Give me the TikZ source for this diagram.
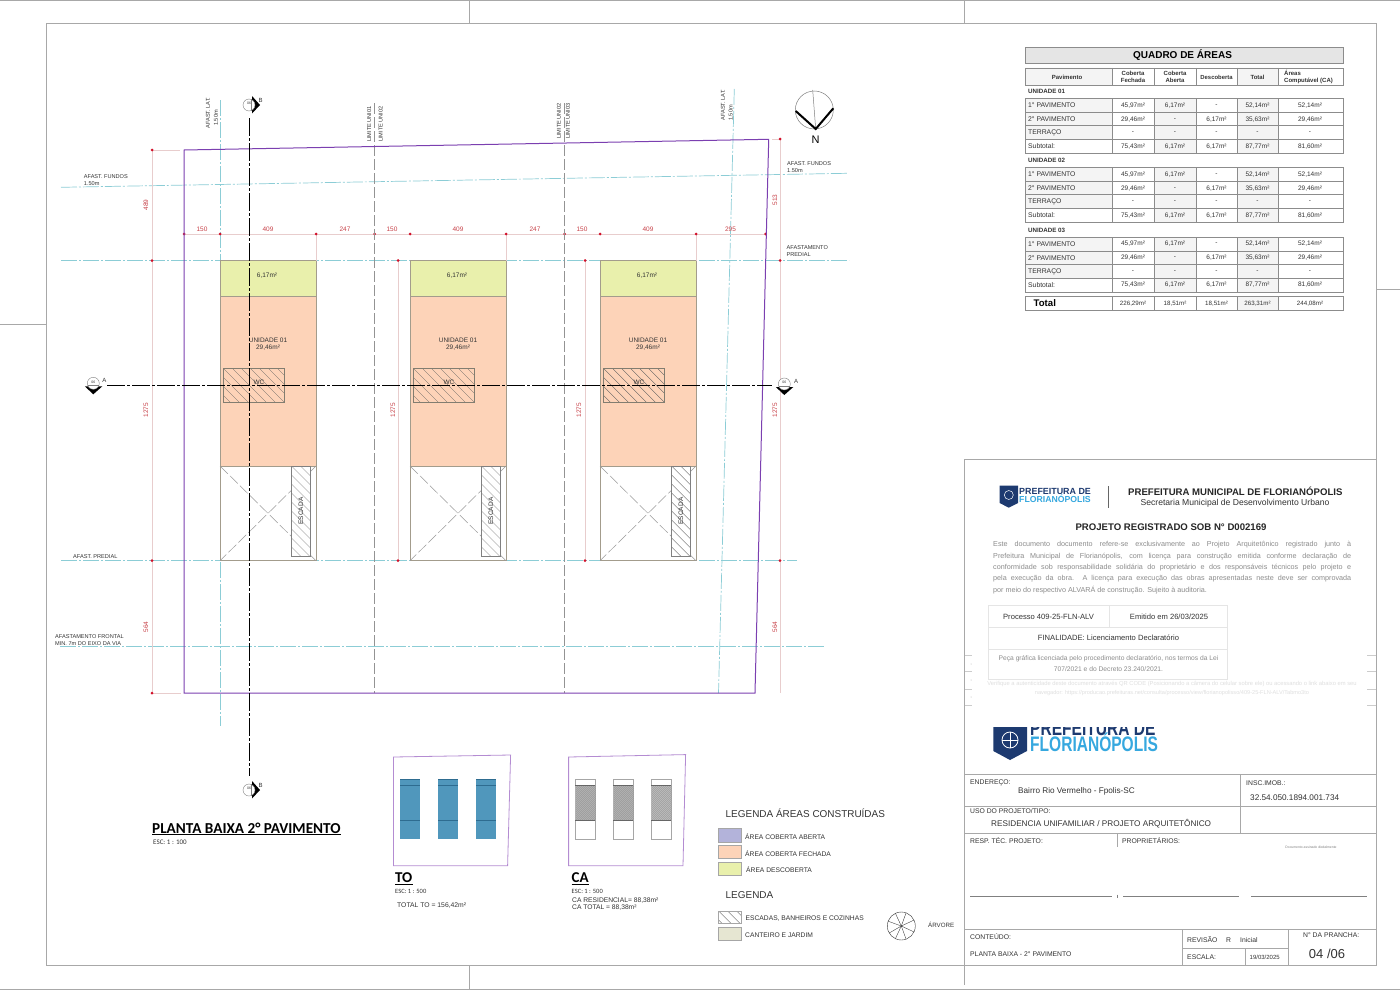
\documentclass[tikz,border=0pt]{standalone}
\usepackage{fontspec}
\setmainfont{Liberation Sans}
\newfontfamily\carlito{Carlito}
\definecolor{moldura}{HTML}{A8A8A8}
\definecolor{texto}{HTML}{333333}
\definecolor{lote}{HTML}{7B3FB0}
\definecolor{lotecl}{HTML}{B48CD2}
\definecolor{afast}{HTML}{8CCDD6}
\definecolor{cota}{HTML}{E8CDCD}
\definecolor{cotatx}{HTML}{C8434A}
\definecolor{ponto}{HTML}{D2102A}
\definecolor{amarelo}{HTML}{E9F0AC}
\definecolor{laranja}{HTML}{FDD3B8}
\definecolor{borda}{HTML}{A39C8C}
\definecolor{lilas}{HTML}{B3B3DA}
\definecolor{jardim}{HTML}{E6E6D2}
\definecolor{azulto}{HTML}{5097BC}
\definecolor{azultod}{HTML}{2E6C90}
\definecolor{marinho}{HTML}{1D3A70}
\definecolor{celeste}{HTML}{36A8DF}
\definecolor{tabcinza}{HTML}{F4F4F4}
\newcommand{\tam}[1]{\fontsize{#1}{#1}\selectfont}
\tikzset{
    txt/.style={inner sep=0pt,anchor=west,text=texto,font=\tam{5.6}},
    meio/.style={inner sep=0pt,text=texto,font=\tam{6.5}},
    cotanum/.style={inner sep=0pt,text=cotatx,font=\tam{6.5}},
    selo/.style={inner sep=0pt,anchor=west,text=texto,font=\tam{6.8}},
    limite/.style={draw=moldura,line width=0.8pt},
    tabela/.style={draw=gray!90,line width=0.7pt},
    afastam/.style={afast,line width=0.7pt,dash pattern=on 16pt off 2pt on 2pt off 2pt},
    eixo/.style={black,line width=1pt,dash pattern=on 18pt off 2pt on 3pt off 2pt},
    divisa/.style={gray!85,line width=0.5pt,dash pattern=on 11pt off 3pt},
    cotalin/.style={cota,line width=1pt},
    hach/.style={texto!80,line width=0.35pt},
    leg/.style={draw=gray!70,line width=0.5pt}
}
\newcommand{\hachura}[4]{%
    \begin{scope}
        \clip (#1,#2) rectangle (#3,#4);
        \foreach \t in {-126,-117,...,126}{
            \draw[hach] ({#1+\t},#2) -- ({#1+\t+#4-#2},#4);
        }
    \end{scope}
}
\begin{document}
\begin{tikzpicture}[x=1pt,y=-1pt]
    \useasboundingbox (0,0) rectangle (1400,990);
    \fill[white] (0,0) rectangle (1400,990);

    %Moldura
    \draw[limite] (0,0.6) -- (1400,0.6) (0,989.3) -- (1400,989.3);
    \draw[limite] (46,23.5) rectangle (1376,965);
    \draw[limite] (469,0) -- (469,23.5) (964.5,0) -- (964.5,23.5);
    \draw[limite] (469,965) -- (469,989) (964.5,965) -- (964.5,985);
    \draw[limite] (0,324) -- (46,324) (1376,289) -- (1400,289);

    %Afastamentos
    \draw[afastam] (61,187.3) -- (847,173.3);
    \draw[afastam] (61,260.5) -- (849,260.5);
    \draw[afastam] (61,560.7) -- (797,560.7);
    \draw[afastam] (60,646.3) -- (825,646.3);
    \draw[afastam] (220,100) -- (220,726);
    \draw[afastam] (734.3,89) -- (718.5,693);

    %Predios
    \foreach \xb [count=\n] in {220,410,600}{
        \begin{scope}[shift={(\xb,0)}]
            \draw[fill=amarelo,draw=borda,line width=0.6pt] (0,260.5) rectangle (96,296);
            \draw[fill=laranja,draw=borda,line width=0.6pt] (0,296) rectangle (96,466);
            \fill[white] (0,466) rectangle (96,560.7);
            \draw[draw=borda,line width=0.6pt] (0,466) rectangle (96,560.7);
            \draw[divisa,gray!80] (0,466) -- (96,560.7) (96,466) -- (0,560.7);
            \hachura{3.5}{368.5}{64.5}{402.5}
            \draw[borda!80!black,line width=0.5pt] (3.5,368.5) rectangle (64.5,402.5);
            \fill[white] (71.5,466) rectangle (90.5,556.5);
            \hachura{71.5}{466}{90.5}{556.5}
            \draw[gray,line width=0.5pt] (71.5,466) rectangle (90.5,556.5);
            \node[meio] (area\n) at (47,276) {6,17m²};
            \node[meio] (unid\n) at (48,340) {UNIDADE 01};
            \node[meio] (aunid\n) at (48,347.5) {29,46m²};
            \node[meio] (wc\n) at (39,382) {WC};
            \node[meio,rotate=90] (esc\n) at (81,511) {ESCADA};
        \end{scope}
    }

    %Cotas
    \draw[cotalin] (152,150) -- (152,693) (780,139) -- (780,693);
    \draw[cotalin] (398,260.5) -- (398,560.7) (585,260.5) -- (585,560.7);
    \draw[cotalin] (184,234) -- (765.5,234);
    \draw[cotalin] (152,150) -- (180,150) (152,693) -- (181,693) (772,139) -- (780,139);
    \foreach \x in {316,506,696}{
        \draw[cotalin] (\x,234) -- (\x,260.5);
    }
    \foreach \x in {184,220,316,374.5,410,506,564.5,600,696,765.5}{
        \fill[ponto] (\x,234) circle (1.5);
    }
    \foreach \x/\y in {152/150,152/260.5,152/560.7,152/693,780/139,780/260.5,780/560.7,398/260.5,398/560.7,585/260.5,585/560.7}{
        \fill[ponto] (\x,\y) circle (1.5);
    }
    \foreach \x/\t [count=\n] in {202/150,268/409,345/247,392/150,458/409,535/247,582/150,648/409,730.5/295}{
        \node[cotanum] (cotah\n) at (\x,229) {\t};
    }
    \foreach \x/\y/\t [count=\n] in {146/205/489,146/410/1275,146/627/564,775/200/513,775/410/1275,775/627/564,393/410/1275,579/410/1275}{
        \node[cotanum,rotate=90] (cotav\n) at (\x,\y) {\t};
    }

    %Limites das unidades
    \draw[divisa] (374.5,103) -- (374.5,693);
    \draw[divisa] (564.5,103) -- (564.5,693);

    %Terreno
    \draw[lote,line width=1pt] (184,150) -- (768.7,139.3) -- (755,693) -- (184,693) -- cycle;

    %Cortes
    \draw[eixo] (249,118) -- (249,776);
    \draw[eixo] (107,385.7) -- (772,385.7);
    \foreach \nm/\cx/\cy/\rot/\lx/\ly/\t in {ca/93.3/383.3/0/104.5/380/A,cb/784.3/384/0/796/381/A,cc/249/105/90/260.5/100/B,cd/249/790/90/260.5/785/B}{
        \begin{scope}[shift={(\cx,\cy)},rotate=\rot]
            \fill[black] (-8.5,3) -- (9,3) -- (0,11) -- cycle;
            \draw[gray,fill=white,line width=0.4pt] (0,0) circle (6);
            \draw[gray,line width=0.3pt] (-5.6,2) -- (5.6,2);
        \end{scope}
        \node[inner sep=0pt,text=texto,font=\tam{3.5}] (\nm n) at (\cx,\cy-1.5) {06};
        \node[inner sep=0pt,text=texto,font=\tam{6}] (\nm l) at (\lx,\ly) {\t};
    }

    %Norte
    \draw[gray,line width=0.5pt] (814.3,110) circle (19);
    \draw[gray,line width=0.5pt] (812.7,90) -- (815.7,129);
    \draw[black,line width=2pt] (795.7,111) -- (815.7,129) -- (833.3,108.3);
    \node[inner sep=0pt,text=black,font=\tam{11}] (norte) at (815.7,139.5) {N};

    %Rotulos
    \node[txt,rotate=90,anchor=center] (alat1) at (208,113) {AFAST. LAT.};
    \node[txt,rotate=90,anchor=center] (alat2) at (216,118) {1.50m};
    \node[txt,rotate=90,anchor=center] (alat3) at (723,105) {AFAST. LAT.};
    \node[txt,rotate=90,anchor=center] (alat4) at (730.7,113) {1.50m};
    \node[txt,rotate=90,anchor=center] (lim1) at (369.3,124) {LIMITE UNI01};
    \node[txt,rotate=90,anchor=center] (lim2) at (380.7,124) {LIMITE UNI02};
    \node[txt,rotate=90,anchor=center] (lim3) at (559,121) {LIMITE UNI02};
    \node[txt,rotate=90,anchor=center] (lim4) at (568,121) {LIMITE UNI03};
    \node[txt] (fun1) at (83.7,176.5) {AFAST. FUNDOS};
    \node[txt] (fun2) at (83.7,183.5) {1.50m};
    \node[txt] (fun3) at (787,163.5) {AFAST. FUNDOS};
    \node[txt] (fun4) at (787,170.5) {1.50m};
    \node[txt] (pre1) at (786.5,248) {AFASTAMENTO};
    \node[txt] (pre2) at (786.5,254.5) {PREDIAL};
    \node[txt] (pre3) at (73,556.5) {AFAST. PREDIAL};
    \node[txt] (fro1) at (55,637) {AFASTAMENTO FRONTAL};
    \node[txt] (fro2) at (55,644) {MIN. 7m DO EIXO DA VIA};

    %Titulo da planta
    \node[txt,font=\carlito\bfseries\tam{15.2},text=black] (titplanta) at (152,828) {PLANTA BAIXA 2° PAVIMENTO};
    \draw[black,line width=1pt] ([yshift=-1pt]titplanta.south west) -- ([yshift=-1pt]titplanta.south east);
    \node[txt,font=\carlito\tam{7}] (escplanta) at (153,842) {ESC: 1 : 100};

    %TO
    \draw[lotecl,line width=0.8pt] (393.5,757) -- (510.6,755) -- (507.6,865.7) -- (393.5,865.7) -- cycle;
    \foreach \x in {400.3,438.3,476.3}{
        \fill[azulto] (\x,779) rectangle (\x+20,839.3);
        \draw[azultod,line width=0.7pt] (\x,779) -- (\x+20,779) (\x,785.7) -- (\x+20,785.7) (\x,820.3) -- (\x+20,820.3);
    }
    \node[txt,font=\carlito\bfseries\tam{15},text=black] (tito) at (395,878) {TO};
    \draw[black,line width=1pt] ([yshift=-1pt]tito.south west) -- ([yshift=-1pt]tito.south east);
    \node[txt,font=\carlito\tam{6.5}] (escto) at (395,891) {ESC: 1 : 500};
    \node[txt,font=\tam{6.8}] (totto) at (397,906) {TOTAL TO = 156,42m²};

    %CA
    \draw[lotecl,line width=0.8pt] (568.6,757) -- (685.6,754.6) -- (683,865.7) -- (568.6,865.7) -- cycle;
    \foreach \x in {575.3,613.3,651.4}{
        \draw[gray!70,line width=0.6pt,fill=white] (\x,779) rectangle (\x+20,839.3);
        \fill[gray!50] (\x,785.7) rectangle (\x+20,820.3);
        \begin{scope}
            \clip (\x,785.7) rectangle (\x+20,820.3);
            \foreach \t in {-36,-34,...,20}{
                \draw[gray,line width=0.3pt] ({\x+\t},820.3) -- ({\x+\t+34.6},785.7);
            }
        \end{scope}
        \draw[gray!80!black,line width=0.6pt] (\x,785.7) -- (\x+20,785.7) (\x,820.3) -- (\x+20,820.3);
    }
    \node[txt,font=\carlito\bfseries\tam{15},text=black] (tica) at (571.5,878) {CA};
    \draw[black,line width=1pt] ([yshift=-1pt]tica.south west) -- ([yshift=-1pt]tica.south east);
    \node[txt,font=\carlito\tam{6.5}] (escca) at (571.5,891) {ESC: 1 : 500};
    \node[txt,font=\tam{6.7}] (caa) at (572,901) {CA RESIDENCIAL= 88,38m²};
    \node[txt,font=\tam{6.7}] (cab) at (572,908) {CA TOTAL = 88,38m²};

    %Legendas
    \node[txt,font=\tam{9.95}] (legareas) at (725.5,813) {LEGENDA ÁREAS CONSTRUÍDAS};
    \node[txt,font=\tam{9.95}] (legenda) at (725.5,895) {LEGENDA};
    \draw[leg,fill=lilas] (718.7,828) rectangle (741,842);
    \draw[leg,fill=laranja] (718.7,845) rectangle (741,858);
    \draw[leg,fill=amarelo] (718.7,862) rectangle (741,875);
    \hachura{718.7}{911}{741}{923}
    \draw[leg] (718.7,911) rectangle (741,923);
    \draw[leg,fill=jardim] (718.7,927) rectangle (741,940);
    \node[txt,font=\tam{6.7}] (lega) at (745,837) {ÁREA COBERTA ABERTA};
    \node[txt,font=\tam{6.7}] (legb) at (745,854) {ÁREA COBERTA FECHADA};
    \node[txt,font=\tam{6.7}] (legc) at (746,869.5) {ÁREA DESCOBERTA};
    \node[txt,font=\tam{6.7}] (legd) at (745.5,918.5) {ESCADAS, BANHEIROS E COZINHAS};
    \node[txt,font=\tam{6.7}] (lege) at (745,935) {CANTEIRO E JARDIM};
    \draw[texto,line width=0.4pt] (901.3,926) circle (14);
    \foreach \a in {25,70,115,150,200,245,290,335}{
        \draw[texto,line width=0.35pt] (901.3,926) -- +(\a:14);
    }
    \node[txt,font=\tam{6.2}] (arvore) at (928,925) {ÁRVORE};

    %Quadro de areas
    \draw[tabela,fill=gray!20] (1025,47.3) rectangle (1343,63);
    \node[meio,font=\bfseries\tam{10},text=black] (quadro) at (1182.5,55.5) {QUADRO DE ÁREAS};
    \fill[tabcinza] (1025,68) rectangle (1112,85) (1237,68) rectangle (1278,85);
    \draw[tabela] (1025,68) rectangle (1343,85);
    \foreach \x in {1112,1154,1196,1237,1278}{
        \draw[tabela] (\x,68) -- (\x,85);
    }
    \node[meio,font=\bfseries\tam{6}] (hpav) at (1067,77) {Pavimento};
    \node[meio,font=\bfseries\tam{6},align=center] (hfec) at (1133,76.5) {Coberta\\[1pt]Fechada};
    \node[meio,font=\bfseries\tam{6},align=center] (habe) at (1175,76.5) {Coberta\\[1pt]Aberta};
    \node[meio,font=\bfseries\tam{5.9}] (hdes) at (1216.5,77) {Descoberta};
    \node[meio,font=\bfseries\tam{6}] (htot) at (1257.5,77) {Total};
    \node[meio,font=\bfseries\tam{6},align=left,anchor=west] (hcom) at (1284,76.5) {Áreas\\[1pt]Computável (CA)};
    \foreach \yu/\un [count=\u] in {98.3/UNIDADE 01,167.3/UNIDADE 02,237/UNIDADE 03}{
        \node[selo,font=\bfseries\tam{6.2}] (un\u) at (1028,\yu-6.5) {\un};
        \fill[tabcinza] (1025,\yu) rectangle (1112,\yu+41) (1154,\yu) rectangle (1196,\yu+55) (1237,\yu) rectangle (1278,\yu+55);
        \foreach \dy/\nm/\va/\vb/\vc/\vd/\ve [count=\l] in {
            0/{1° PAVIMENTO}/{45,97m²}/{6,17m²}/-/{52,14m²}/{52,14m²},
            14/{2° PAVIMENTO}/{29,46m²}/-/{6,17m²}/{35,63m²}/{29,46m²},
            27.5/{TERRAÇO}/-/-/-/-/-,
            41/{Subtotal:}/{75,43m²}/{6,17m²}/{6,17m²}/{87,77m²}/{81,60m²}}{
            \node[selo] (n\u-\l) at (1028,\yu+\dy+7) {\nm};
            \node[meio] (a\u-\l) at (1133,\yu+\dy+7) {\va};
            \node[meio] (b\u-\l) at (1175,\yu+\dy+7) {\vb};
            \node[meio] (c\u-\l) at (1216.5,\yu+\dy+7) {\vc};
            \node[meio] (d\u-\l) at (1257.5,\yu+\dy+7) {\vd};
            \node[meio] (e\u-\l) at (1310,\yu+\dy+7) {\ve};
        }
        \draw[tabela] (1025,\yu) rectangle (1343,\yu+55);
        \foreach \dy in {14,27.5,41}{
            \draw[tabela] (1025,\yu+\dy) -- (1343,\yu+\dy);
        }
        \foreach \x in {1112,1154,1196,1237,1278}{
            \draw[tabela] (\x,\yu) -- (\x,\yu+55);
        }
    }
    \fill[tabcinza] (1237,296.7) rectangle (1278,310.3);
    \draw[tabela,line width=0.9pt] (1025,296.7) rectangle (1343,310.3);
    \foreach \x in {1112,1154,1196,1237,1278}{
        \draw[tabela] (\x,296.7) -- (\x,310.3);
    }
    \node[selo,font=\bfseries\tam{9.6},text=black] (ttot) at (1033.5,303.3) {Total};
    \node[meio,font=\tam{6.2}] (tfec) at (1133,304) {226,29m²};
    \node[meio,font=\tam{6.2}] (tabe) at (1175,304) {18,51m²};
    \node[meio,font=\tam{6.2}] (tdes) at (1216.5,304) {18,51m²};
    \node[meio,font=\tam{6.2}] (ttt) at (1257.5,304) {263,31m²};
    \node[meio,font=\tam{6.2}] (tcom) at (1310,304) {244,08m²};

    %Carimbo
    \draw[limite] (964.5,459) -- (1376,459);
    \draw[limite] (964.5,459) -- (964.5,965);
    \foreach \y in {774.3,806.7,833.3,929.7}{
        \draw[limite] (964.5,\y) -- (1376,\y);
    }
    \draw[limite] (1240,774.3) -- (1240,833.3) (1117,833.3) -- (1117,847);
    \draw[limite] (1182,929.7) -- (1182,965) (1288,929.7) -- (1288,965);
    \draw[limite] (1182,948.3) -- (1288,948.3) (1245.7,948.3) -- (1245.7,965);
    \draw[gray,line width=0.5pt] (970,895.8) -- (1112,895.8) (1123,895.8) -- (1239,895.8) (1251,895.8) -- (1367,895.8) (1117,894.5) -- (1117,898);
    \foreach \y in {655,671.7,689,705.7}{
        \draw[gray!40,line width=0.6pt] (964.5,\y) -- (972,\y) (1367,\y) -- (1376,\y);
    }
    \foreach \y in {664,680,697}{
        \fill[gray!60] (971,\y) circle (0.5);
    }

    %Logo pequeno
    \fill[marinho] (999.6,485.7) -- (1018,485.7) -- (1018,503) -- (1008.8,507.7) -- (999.6,503) -- cycle;
    \draw[white,line width=0.5pt] (1008.8,495) circle (4.5);
    \node[selo,font=\bfseries\tam{8.9},text=marinho] (logoa) at (1019,494.6) {\smash{PREFEITURA DE}};
    \node[selo,font=\bfseries\tam{8.7},text=celeste] (logob) at (1019,502.5) {\smash{FLORIANÓPOLIS}};
    \draw[gray!80!black,line width=0.7pt] (1108.3,486) -- (1108.3,508);
    \node[selo,font=\bfseries\tam{9.6},text=black!85] (pref) at (1128,491.5) {PREFEITURA MUNICIPAL DE FLORIANÓPOLIS};
    \node[meio,font=\tam{8.6}] (secr) at (1235,503) {Secretaria Municipal de Desenvolvimento Urbano};
    \node[meio,font=\bfseries\tam{9.6},text=black!85] (proj) at (1171,527) {PROJETO REGISTRADO SOB N° D002169};

    %Texto do registro
    \foreach \y/\t [count=\n] in {
        544.7/{Este documento documento refere-se exclusivamente ao Projeto Arquitetônico registrado junto à},
        556.2/{Prefeitura Municipal de Florianópolis, com licença para construção emitida conforme declaração de},
        567.7/{conformidade sob responsabilidade solidária do proprietário e dos responsáveis técnicos pelo projeto e},
        579/{pela execução da obra. A licença para execução das obras apresentadas neste deve ser comprovada}}{
        \node[selo,font=\tam{7.2},text=gray!90] (par\n) at (993,\y) {\makebox[358pt][s]{\t}};
    }
    \node[selo,font=\tam{7.2},text=gray!90] (par5) at (993,590.5) {por meio do respectivo ALVARÁ de construção. Sujeito à auditoria.};

    %Tabela do processo
    \draw[gray!20,line width=0.6pt] (988.5,605.7) rectangle (1227.5,679.3);
    \draw[gray!20,line width=0.6pt] (988.5,627.3) -- (1227.5,627.3) (988.5,649.3) -- (1227.5,649.3) (1109.3,605.7) -- (1109.3,627.3);
    \node[meio,font=\tam{7.6}] (proc) at (1048.5,616.5) {Processo 409-25-FLN-ALV};
    \node[meio,font=\tam{7.6}] (emit) at (1169,616.5) {Emitido em 26/03/2025};
    \node[meio,font=\tam{7.6}] (fina) at (1108.5,638) {FINALIDADE: Licenciamento Declaratório};
    \node[meio,font=\tam{6.7},text=gray!90] (pecaa) at (1108.5,659) {Peça gráfica licenciada pelo procedimento declaratório, nos termos da Lei};
    \node[meio,font=\tam{6.7},text=gray!90] (pecab) at (1108.5,669) {707/2021 e do Decreto 23.240/2021.};
    \node[meio,font=\tam{5.8},text=gray!25] (vera) at (1172,684) {Verifique a autenticidade deste documento através QR CODE (Posicionando a câmera do celular sobre ele) ou acessando o link abaixo em seu};
    \node[meio,font=\tam{5.6},text=gray!25] (verb) at (1172,693) {navegador: https://producao.prefeituras.net/consulta/processo/view/florianopolisso/409-25-FLN-ALV/Tabmo3to};

    %Logo grande
    \begin{scope}
        \clip (985,727) rectangle (1200,765);
        \fill[marinho] (993.3,720) -- (1027,720) -- (1027,751) -- (1010,760) -- (993.3,751) -- cycle;
        \draw[white,line width=0.8pt] (1010,740) circle (8);
        \draw[white,line width=0.6pt] (1010,732) -- (1010,748) (1002,740) -- (1018,740);
        \node[selo,text=marinho] (logoc) at (1030,735.5) {\smash{\scalebox{0.74}[1]{\bfseries\tam{21}PREFEITURA DE}}};
        \node[selo,text=celeste] (logod) at (1030,751.7) {\smash{\scalebox{0.74}[1]{\bfseries\tam{21}FLORIANÓPOLIS}}};
    \end{scope}

    %Textos do carimbo
    \node[selo] (end) at (970,783) {ENDEREÇO:};
    \node[selo,font=\tam{8.2}] (bairro) at (1018,791) {Bairro Rio Vermelho - Fpolis-SC};
    \node[selo] (insc) at (1246,783) {INSC.IMOB.:};
    \node[selo,font=\tam{8.2}] (inscn) at (1250,797.7) {32.54.050.1894.001.734};
    \node[selo] (uso) at (970,811) {USO DO PROJETO/TIPO:};
    \node[selo,font=\tam{8.2}] (resid) at (991,824) {RESIDENCIA UNIFAMILIAR / PROJETO ARQUITETÔNICO};
    \node[selo] (resp) at (970,841) {RESP. TÉC. PROJETO:};
    \node[selo] (prop) at (1122,841) {PROPRIETÁRIOS:};
    \begin{scope}
        \clip (1270,840) rectangle (1350,847.6);
        \node[meio,font=\tam{3.4},text=gray] (assin) at (1311,847.5) {Documento assinado digitalmente};
    \end{scope}
    \node[selo] (cont) at (970,937) {CONTEÚDO:};
    \node[selo] (plan) at (970,954) {PLANTA BAIXA - 2° PAVIMENTO};
    \node[selo] (rev) at (1187,940) {REVISÃO};
    \node[selo] (revr) at (1226,940) {R};
    \node[selo] (revi) at (1240,940) {Inicial};
    \node[selo] (esca) at (1187,957) {ESCALA:};
    \node[selo,font=\tam{6}] (data) at (1249.5,957) {19/03/2025};
    \node[selo] (pran) at (1303,935) {N° DA PRANCHA:};
    \node[meio,font=\tam{13}] (num) at (1327,954) {04 /06};
\end{tikzpicture}
\end{document}
